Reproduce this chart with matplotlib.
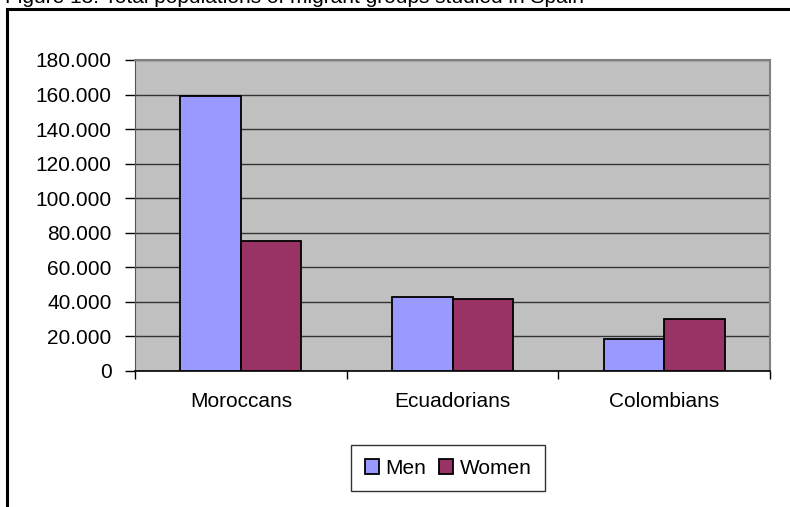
import numpy as np
import matplotlib.pyplot as plt
from matplotlib.patches import Rectangle
from matplotlib.ticker import FixedLocator, FuncFormatter

# dados
grupos = ["Moroccans", "Ecuadorians", "Colombians"]
men = [159000, 43000, 18500]
women = [75500, 41500, 30000]
series = ["Men", "Women"]
titulo = "Figure 13: Total populations of migrant groups studied in Spain"

plt.rcParams["font.family"] = ["Liberation Sans", "DejaVu Sans"]

fig = plt.figure(figsize=(7.9, 5.07), dpi=100)
ax = fig.add_axes([135 / 790, 1 - 371 / 507, 635 / 790, 311 / 507])

# moldura externa e titulo cortado
fig.patches.append(Rectangle((7 / 790, -0.1), 1.2, 1 - 9 / 507 + 0.1,
                             transform=fig.transFigure, fill=False,
                             edgecolor="black", linewidth=2.2))
fig.text(5 / 790, 1 - 3 / 507, titulo, fontsize=15, ha="left", va="baseline")

x = np.arange(len(grupos))
w = 0.286
ax.set_facecolor("#C0C0C0")
ax.bar(x - w / 2, men, w, color="#9999FF", edgecolor="black", linewidth=1.3,
       label=series[0], zorder=3)
ax.bar(x + w / 2, women, w, color="#993366", edgecolor="black", linewidth=1.3,
       label=series[1], zorder=3)

ax.set_xlim(-0.5, 2.5)
ax.set_ylim(0, 180000)
ax.set_yticks(np.arange(0, 180001, 20000))
ax.yaxis.set_major_formatter(FuncFormatter(
    lambda v, p: "0" if v == 0 else f"{int(v):,}".replace(",", ".")))

ax.xaxis.set_major_locator(FixedLocator([-0.5, 0.5, 1.5, 2.5]))
ax.xaxis.set_minor_locator(FixedLocator(x))
ax.set_xticklabels([])
ax.set_xticklabels(grupos, minor=True)
ax.tick_params(axis="x", which="major", length=6, width=1, direction="out")
ax.tick_params(axis="x", which="minor", length=0, pad=15, labelsize=15)
ax.tick_params(axis="y", length=7, width=1, pad=10, labelsize=15)

ax.grid(True, axis="y", color="#333333", linewidth=1, zorder=1)
ax.set_axisbelow(True)

for lado in ["top", "right"]:
    ax.spines[lado].set_color("#808080")
    ax.spines[lado].set_linewidth(1.5)
ax.spines["left"].set_color("#555555")
ax.spines["bottom"].set_color("black")
ax.spines["bottom"].set_linewidth(1.2)

leg = ax.legend(loc="center", bbox_to_anchor=(0.493, -0.312), ncol=2,
                fontsize=15, frameon=True, fancybox=False, edgecolor="black",
                handlelength=0.7, handleheight=0.7, handletextpad=0.3,
                columnspacing=0.6, borderpad=0.65)
leg.get_frame().set_linewidth(1)

fig.savefig("out.png", dpi=100)
plt.close()
